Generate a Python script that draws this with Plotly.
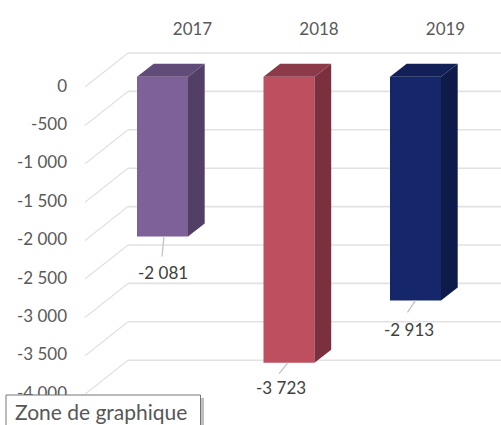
import plotly.graph_objects as go

categories = ["2017", "2018", "2019"]
values = [-2081, -3723, -2913]
value_labels = ["-2 081", "-3 723", "-2 913"]
tick_values = [0, -500, -1000, -1500, -2000, -2500, -3000, -3500, -4000]
tick_labels = ["0", "-500", "-1 000", "-1 500", "-2 000", "-2 500", "-3 000", "-3 500", "-4 000"]
front_colors = ["#7F6199", "#BD4F5E", "#16266B"]
side_colors = ["#533E66", "#7B303D", "#0E1A4A"]
top_colors = ["#614B78", "#8C3A4A", "#131F57"]

W, H = 501, 425
ML, MT = 72, 42
PX_X = 126.5
PX_Y = 0.0768
X0 = 162.5
Y0 = 76.7
xr = [(ML - X0) / PX_X, (W - X0) / PX_X]
yr = [-(H - Y0) / PX_Y, (Y0 - MT) / PX_Y]
dx = lambda p: p / PX_X
dy = lambda p: p / PX_Y
BW = 51 / PX_X
DEP, RISE = dx(16.7), dy(12.9)
idx = list(range(len(categories)))

fig = go.Figure()
fig.add_trace(go.Bar(x=idx, y=values, width=BW, marker=dict(color=front_colors, line=dict(width=0)), hoverinfo="skip"))
for i, v in zip(idx, values):
    a, b = i - BW / 2, i + BW / 2
    fig.add_trace(go.Scatter(x=[b, b + DEP, b + DEP, b, b], y=[0, RISE, v + RISE, v, 0], mode="lines", fill="toself",
                             fillcolor=side_colors[i], line=dict(width=0), hoverinfo="skip"))
    fig.add_trace(go.Scatter(x=[a, b, b + DEP, a + DEP, a], y=[0, 0, RISE, RISE, 0], mode="lines", fill="toself",
                             fillcolor=top_colors[i], line=dict(width=0), hoverinfo="skip"))

shapes = []
GRID = "#E2E2E2"
for t in tick_values:
    xf, xb, xe = (85 - X0) / PX_X, (128 - X0) / PX_X, xr[1]
    yf, yb = t - dy(10.3), t + dy(23.7)
    shapes.append(dict(type="line", layer="below", xref="x", yref="y", x0=xf, y0=yf, x1=xb, y1=yb, line=dict(color=GRID, width=1.3)))
    shapes.append(dict(type="line", layer="below", xref="x", yref="y", x0=xb, y0=yb, x1=xe, y1=yb, line=dict(color=GRID, width=1.6)))

# leader lines and data labels
leader = [((1.5, 0), (-0.5, 20), (0, 36)), ((-1, 0), (-10, 11), (-8, 25)), ((0, 0), (-8, 12), (-6.5, 29))]
annos = []
for i, v in zip(idx, values):
    (sx, sy), (ex, ey), (lx, ly) = leader[i]
    shapes.append(dict(type="line", layer="above", xref="x", yref="y", x0=i + dx(sx), y0=v - dy(sy), x1=i + dx(ex), y1=v - dy(ey),
                       line=dict(color="#BFBFBF", width=1.2)))
    annos.append(dict(x=i + dx(lx), y=v - dy(ly), xref="x", yref="y", text=value_labels[i], showarrow=False,
                      xanchor="center", yanchor="middle", font=dict(family="Lato", size=17, color="#404040")))

# tooltip box
px2paperx = lambda p: (p - ML) / (W - ML)
px2papery = lambda p: (H - p) / (H - MT)
shapes.append(dict(type="rect", layer="above", xref="paper", yref="paper", x0=px2paperx(9), x1=px2paperx(204), y0=px2papery(440), y1=px2papery(398),
                   fillcolor="rgba(0,0,0,0.25)", line=dict(width=0)))
shapes.append(dict(type="rect", layer="above", xref="paper", yref="paper", x0=px2paperx(6), x1=px2paperx(200.5), y0=px2papery(440), y1=px2papery(395),
                   fillcolor="#FFFFFF", line=dict(color="#767676", width=1)))
annos.append(dict(x=px2paperx(13), y=px2papery(411), xref="paper", yref="paper", text="Zone de graphique", showarrow=False,
                  xanchor="left", yanchor="middle", font=dict(family="Lato", size=21, color="#575757")))

fig.update_layout(
    width=W, height=H, autosize=False,
    margin=dict(l=ML, r=0, t=MT, b=0, pad=0),
    plot_bgcolor="#FFFFFF", paper_bgcolor="#FFFFFF", showlegend=False,
    shapes=shapes, annotations=annos,
    xaxis=dict(range=xr, side="top", tickmode="array", tickvals=idx, ticktext=categories, showgrid=False, zeroline=False,
               showline=False, ticks="", ticklabelshift=30, ticklabelstandoff=3, tickangle=0, fixedrange=True,
               tickfont=dict(family="Lato", size=17, color="#595959")),
    yaxis=dict(range=yr, tickmode="array", tickvals=tick_values, ticktext=tick_labels, showgrid=False, zeroline=False,
               showline=False, ticks="", ticklabelshift=9, ticklabelstandoff=4, fixedrange=True,
               tickfont=dict(family="Lato", size=17, color="#595959")),
)
fig.write_html("out.html", config=dict(displayModeBar=False),
               post_script="document.body.style.margin='0';document.documentElement.style.overflow='hidden';")
